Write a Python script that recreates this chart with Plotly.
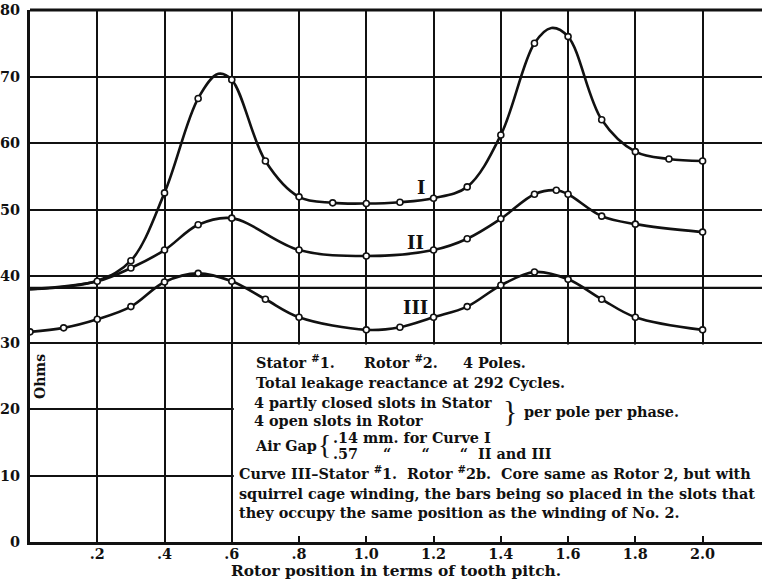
import plotly.graph_objects as go

# ---------------- data ----------------
curve_I_x = [0.0, 0.2, 0.3, 0.4, 0.5, 0.56, 0.6, 0.7, 0.8, 0.9, 1.0, 1.1, 1.2, 1.3, 1.4, 1.5, 1.55, 1.6, 1.7, 1.8, 1.9, 2.0]
curve_I_y = [38.0, 39.3, 42.3, 52.5, 66.7, 70.4, 69.5, 57.3, 51.9, 51.0, 50.9, 51.1, 51.7, 53.4, 61.2, 75.0, 77.3, 76.0, 63.5, 58.7, 57.6, 57.3]
curve_I_marked = [0, 0, 1, 1, 1, 0, 1, 1, 1, 1, 1, 1, 1, 1, 1, 1, 0, 1, 1, 1, 1, 1]

curve_II_x = [0.0, 0.2, 0.3, 0.4, 0.5, 0.6, 0.8, 1.0, 1.2, 1.3, 1.4, 1.5, 1.565, 1.6, 1.7, 1.8, 2.0]
curve_II_y = [38.0, 39.2, 41.2, 43.9, 47.7, 48.7, 43.9, 43.0, 43.9, 45.6, 48.6, 52.3, 52.9, 52.3, 49.0, 47.8, 46.6]
curve_II_marked = [0, 1, 1, 1, 1, 1, 1, 1, 1, 1, 1, 1, 1, 1, 1, 1, 1]

curve_III_x = [0.0, 0.1, 0.2, 0.3, 0.4, 0.5, 0.6, 0.7, 0.8, 1.0, 1.1, 1.2, 1.3, 1.4, 1.5, 1.6, 1.7, 1.8, 2.0]
curve_III_y = [31.6, 32.2, 33.5, 35.4, 39.1, 40.4, 39.2, 36.5, 33.8, 31.9, 32.3, 33.8, 35.4, 38.6, 40.6, 39.5, 36.5, 33.8, 31.9]
curve_III_marked = [1] * len(curve_III_x)

x_tick_vals = [0.2, 0.4, 0.6, 0.8, 1.0, 1.2, 1.4, 1.6, 1.8, 2.0]
x_tick_text = [".2", ".4", ".6", ".8", "1.0", "1.2", "1.4", "1.6", "1.8", "2.0"]
y_tick_vals = [0, 10, 20, 30, 40, 50, 60, 70, 80]
y_tick_text = ["0", "10", "20", "30", "40", "50", "60", "70", "80"]
ref_line_y = 38.2

FONT = "DejaVu Serif"
INK = "#111111"
FS = 14.4
NB = "\u00a0"

fig = go.Figure()

for xs, ys, marked in [(curve_I_x, curve_I_y, curve_I_marked),
                       (curve_II_x, curve_II_y, curve_II_marked),
                       (curve_III_x, curve_III_y, curve_III_marked)]:
    fig.add_trace(go.Scatter(x=xs, y=ys, mode="lines",
                             line=dict(color=INK, width=2.6, shape="spline", smoothing=1.0),
                             hoverinfo="skip", showlegend=False))
    mx = [x for x, m in zip(xs, marked) if m]
    my = [y for y, m in zip(ys, marked) if m]
    fig.add_trace(go.Scatter(x=mx, y=my, mode="markers",
                             marker=dict(symbol="circle", size=6, color="white",
                                         line=dict(color=INK, width=1.6)),
                             showlegend=False))

shapes = [
    # white text panel covering the grid
    dict(type="rect", xref="x", yref="y", x0=0.606, x1=2.3, y0=0.35, y1=29.7,
         fillcolor="white", line=dict(width=0), layer="between"),
    # extra horizontal reference line
    dict(type="line", xref="paper", yref="y", x0=0, x1=1, y0=ref_line_y, y1=ref_line_y,
         line=dict(color=INK, width=2.2), layer="between"),
    # top border
    dict(type="line", xref="paper", yref="paper", x0=0, x1=1, y0=1, y1=1,
         line=dict(color=INK, width=3.2), layer="above"),
]

fig.update_layout(
    width=762, height=587,
    margin=dict(l=30, r=0, t=10, b=45),
    paper_bgcolor="white", plot_bgcolor="white",
    font=dict(family=FONT, size=FS, color=INK, weight="bold"),
    shapes=shapes,
    xaxis=dict(range=[0, 732 / 336.3], tickvals=x_tick_vals, ticktext=x_tick_text,
               showgrid=True, gridcolor=INK, gridwidth=2,
               showline=True, linecolor=INK, linewidth=3.2,
               ticks="inside", ticklen=6, tickwidth=2, tickcolor=INK,
               zeroline=False, ticklabelstandoff=-3, automargin=False,
               tickfont=dict(family=FONT, size=FS, color=INK, weight="bold")),
    yaxis=dict(range=[0, 80], tickvals=y_tick_vals, ticktext=y_tick_text,
               showgrid=True, gridcolor=INK, gridwidth=2,
               showline=True, linecolor=INK, linewidth=3.2,
               ticks="", zeroline=False, ticklabelstandoff=4, automargin=False,
               tickfont=dict(family=FONT, size=FS, color=INK, weight="bold")),
)

def px2x(px):
    return (px - 30) / 336.3

def py2y(py):
    return (542 - py) / 6.65

def note(text, px, py, size=FS, anchor="left", angle=0, weight="bold", family=FONT):
    fig.add_annotation(x=px2x(px), y=py2y(py), xref="x", yref="y", text=text,
                       showarrow=False, xanchor=anchor, yanchor="middle", textangle=angle,
                       font=dict(family=family, size=size, color=INK, weight=weight))

# x axis title (below the plot area, in paper coordinates)
fig.add_annotation(x=(396 - 30) / 732, y=(542 - 571) / 532, xref="paper", yref="paper",
                   text="Rotor position in terms of tooth pitch.", showarrow=False,
                   xanchor="center", yanchor="middle",
                   font=dict(family=FONT, size=15.4, color=INK, weight="bold"))

# curve labels
note("I", 421, 187, size=18, anchor="center")
note("II", 415, 242, size=18, anchor="center")
note("III", 415, 307, size=18, anchor="center")

# y axis label
note("Ohms", 40, 377, size=14, anchor="center", angle=-90)

# text panel
note("Stator <sup>#</sup>1.", 254, 362)
note("Rotor <sup>#</sup>2.", 362, 362)
note("4 Poles.", 461, 362)
note("Total leakage reactance at 292 Cycles.", 254, 382)
note("4 partly closed slots in Stator", 252, 402)
note("4 open slots in Rotor", 252, 420)
note("}", 510, 410, size=30, weight="normal", family="Liberation Serif", anchor="center")
note("per pole per phase.", 522, 411)
note("Air Gap", 253, 445)
note("{", 324, 444, size=28, weight="normal", family="Liberation Serif", anchor="center")
note(".14 mm. for Curve I", 331, 437)
note(".57" + NB * 5 + "\u201c" + NB * 6 + "\u201c" + NB * 6 + "\u201c" + NB * 2 + "II and III", 331, 453)
note("Curve III\u2013Stator <sup>#</sup>1.  Rotor <sup>#</sup>2b.  Core same as Rotor 2, but with", 237, 473)
note("squirrel cage winding, the bars being so placed in the slots that", 237, 493)
note("they occupy the same position as the winding of No. 2.", 237, 512)

fig.write_html("out.html", config={"displayModeBar": False},
               post_script="document.body.style.margin='0';document.body.style.overflow='hidden';")
